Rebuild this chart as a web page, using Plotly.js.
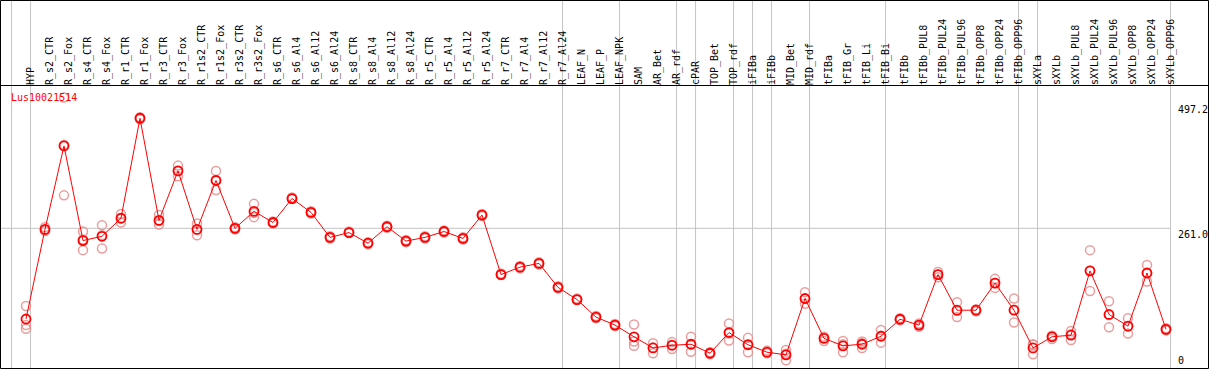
<!DOCTYPE html>
<html>
<head>
<meta charset="utf-8">
<script src="https://cdn.plot.ly/plotly-3.0.1.min.js"></script>
<style>
html,body{margin:0;padding:0;background:#fff;}
#chart{width:1209px;height:370px;}
</style>
</head>
<body>
<div id="chart"></div>
<script>
const geneName = "Lus10021514";
const categories = ["HYP","R_s2_CTR","R_s2_Fox","R_s4_CTR","R_s4_Fox","R_r1_CTR","R_r1_Fox","R_r3_CTR","R_r3_Fox","R_r1s2_CTR","R_r1s2_Fox","R_r3s2_CTR","R_r3s2_Fox","R_s6_CTR","R_s6_Al4","R_s6_Al12","R_s6_Al24","R_s8_CTR","R_s8_Al4","R_s8_Al12","R_s8_Al24","R_r5_CTR","R_r5_Al4","R_r5_Al12","R_r5_Al24","R_r7_CTR","R_r7_Al4","R_r7_Al12","R_r7_Al24","LEAF_N","LEAF_P","LEAF_NPK","SAM","AR_Bet","AR_rdf","cPAR","TOP_Bet","TOP_rdf","iFIBa","iFIBb","MID_Bet","MID_rdf","tFIBa","tFIB_Gr","tFIB_Li","tFIB_Bi","tFIBb","tFIBb_PUL8","tFIBb_PUL24","tFIBb_PUL96","tFIBb_OPP8","tFIBb_OPP24","tFIBb_OPP96","sXYLa","sXYLb","sXYLb_PUL8","sXYLb_PUL24","sXYLb_PUL96","sXYLb_OPP8","sXYLb_OPP24","sXYLb_OPP96"];
const meanValues = [90.5,259,416,238,246,280,468,276,369,259,351,261,293,272,317,291,244,253,233,264,237,244,255,242,286,174,188,195,150,127,94,79,57,36,41,43,26,65,42,28,23,129,54,40,43,58,90,79,174,107,107,158,107,36,57,60,181,99,77,177,71];
const rep1 = [115,263,507,255,267,288,470,286,379,270,369,263,307,274,319,293,246,255,235,266,239,246,257,244,288,176,190,197,152,129,96,81,80,45,47,57,28,82,55,31,32,141,57,49,48,70,92,82,179,122,109,166,129,42,58,68,220,124,92,192,73];
const rep2 = [79,256,323,220,223,272,466,268,359,248,333,259,282,270,316,289,242,252,231,262,235,242,253,240,284,173,186,193,148,126,92,77,48,26,34,29,24,50,28,26,13,119,49,28,36,46,88,76,169,94,105,149,84,24,53,51,143,75,63,161,69];
const rep3 = [72,258,418,240,248,280,468,275,369,259,352,261,290,272,317,291,244,253,233,264,237,244,255,242,286,174,188,195,150,127,94,79,40,37,42,43,27,63,42,28,25,128,55,43,45,59,90,79,174,106,107,158,108,43,59,62,181,98,77,177,71];
const groupEnds = ["","HYP","R_r7_Al24","LEAF_NPK","AR_rdf","cPAR","TOP_rdf","iFIBa","iFIBb","MID_rdf","tFIB_Bi","tFIBb_OPP96","sXYLa","sXYLb_OPP96"];
const yTickVals = [0, 261.0, 497.2];
const yTickText = ["0", "261.0", "497.2"];

const idx = categories.map((c,i)=>i+1);
const repX = [].concat(idx, idx, idx);
const repY = [].concat(rep1, rep2, rep3);

const FONT = "DejaVu Sans Mono, Liberation Mono, monospace";
const H = 370, T = 86, B = 2;
const plotH = H - T - B;
const py = p => (H - B - p) / plotH; // pixel y -> paper y

const shapes = [];
groupEnds.forEach(g => {
  const i = g === "" ? 0 : categories.indexOf(g) + 1;
  shapes.push({type:"line", xref:"x", yref:"paper", x0:i+0.24, x1:i+0.24, y0:0, y1:py(0), line:{color:"#c4c4c4", width:1}, layer:"below"});
});
shapes.push({type:"line", xref:"paper", yref:"y", x0:0, x1:(categories.length+0.24+0.368)/(63.263+0.368), y0:yTickVals[1], y1:yTickVals[1], line:{color:"#c4c4c4", width:1}, layer:"below"});
// frame
shapes.push({type:"rect", xref:"paper", yref:"paper", x0:0.5/1209, x1:1208.5/1209, y0:py(368.5), y1:py(0.5), line:{color:"#000", width:1}, fillcolor:"rgba(0,0,0,0)"});
shapes.push({type:"line", xref:"paper", yref:"paper", x0:0, x1:1, y0:py(85.5), y1:py(85.5), line:{color:"#000", width:1}});

const annotations = [
  {text:geneName, xref:"paper", yref:"paper", x:9/1209, y:py(98), xanchor:"left", yanchor:"middle", showarrow:false, font:{family:FONT, size:10, color:"#ff0000"}}
];
yTickVals.forEach((v,k)=>{
  annotations.push({text:yTickText[k], xref:"paper", yref:"y", x:1177/1209, y:v, xanchor:"left", yanchor: v===0 ? "bottom" : "top", showarrow:false, borderpad:0, font:{family:FONT, size:10, color:"#000"}});
});

const traces = [
  {x:repX, y:repY, type:"scatter", mode:"markers", marker:{symbol:"circle-open", size:9, color:"rgba(232,140,140,0.85)", line:{width:1.5}}, hoverinfo:"skip"},
  {x:idx, y:meanValues, type:"scatter", mode:"lines+markers", line:{color:"#ff0000", width:1}, marker:{symbol:"circle-open", size:9, color:"#ff0000", line:{width:1.8}}}
];

const layout = {
  width:1209, height:H,
  margin:{l:0, r:0, t:T, b:B, pad:0},
  paper_bgcolor:"#fff", plot_bgcolor:"#fff",
  showlegend:false,
  xaxis:{type:"linear", range:[-0.368, 63.263], side:"top", tickvals:idx, ticktext:categories, tickangle:-90, ticks:"", ticklabelshift:5, showgrid:false, zeroline:false, showline:false, tickfont:{family:FONT, size:10, color:"#000"}, fixedrange:true},
  yaxis:{range:[-1.7, 528.7], showticklabels:false, ticks:"", showgrid:false, zeroline:false, showline:false, fixedrange:true},
  shapes:shapes,
  annotations:annotations
};
Plotly.newPlot("chart", traces, layout, {staticPlot:true, displayModeBar:false});
</script>
</body>
</html>
